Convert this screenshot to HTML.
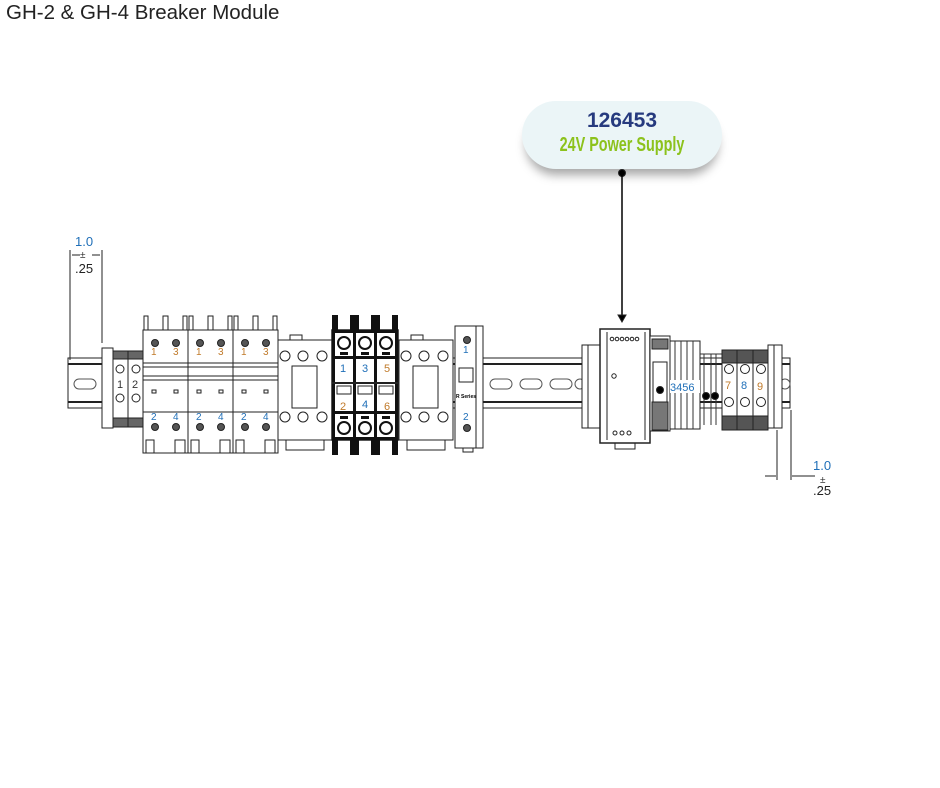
<!DOCTYPE html>
<html><head><meta charset="utf-8"><style>
html,body{margin:0;padding:0;background:#fff;}
body{width:940px;height:788px;position:relative;overflow:hidden;font-family:"Liberation Sans",sans-serif;}
.title{position:absolute;left:6px;top:1px;font-size:20.5px;color:#222;}
.call{position:absolute;left:522px;top:101px;width:200px;height:68px;border-radius:34px;background:#ebf5f7;box-shadow:0 10px 10px -4px rgba(0,0,0,0.35);text-align:center;}
.c1{font-weight:bold;font-size:21px;color:#263a7e;margin-top:8px;line-height:24px;}
.c2{font-weight:bold;font-size:20px;color:#8cc21c;line-height:24px;font-family:"Liberation Sans Narrow","Liberation Sans",sans-serif;transform:scaleX(0.72);white-space:nowrap;}
</style></head><body>
<div class="title">GH-2 &amp; GH-4 Breaker Module</div>
<div class="call"><div class="c1">126453</div><div class="c2">24V Power Supply</div></div>
<svg width="940" height="788" style="position:absolute;left:0;top:0" fill="none" stroke="#222" stroke-width="1">
<circle cx="622" cy="173" r="3.5" fill="#000"/>
<line x1="622" y1="173" x2="622" y2="316" stroke="#000" stroke-width="1.5"/>
<path d="M618 315 L626 315 L622 322 Z" fill="#000"/>
<rect x="68" y="358" width="722" height="50" fill="#fff"/>
<line x1="68" y1="364" x2="790" y2="364" stroke-width="2"/>
<line x1="68" y1="402" x2="790" y2="402" stroke-width="2"/>
<g stroke="#555">
<rect x="74" y="379" width="22" height="10" rx="5"/>
<rect x="490" y="379" width="22" height="10" rx="5"/>
<rect x="520" y="379" width="22" height="10" rx="5"/>
<rect x="550" y="379" width="22" height="10" rx="5"/>
<rect x="575" y="379" width="10" height="10" rx="5"/>
<rect x="780" y="379" width="10" height="10" rx="5"/>
</g>
<line x1="70" y1="250" x2="70" y2="360"/>
<line x1="102" y1="250" x2="102" y2="343"/>
<line x1="72" y1="255" x2="80" y2="255"/><line x1="92" y1="255" x2="100" y2="255"/>
<text x="75" y="246" font-size="13" fill="#1f6fb8" stroke="none">1.0</text>
<text x="80" y="258" font-size="10" fill="#333" stroke="none">±</text>
<text x="75" y="273" font-size="13" fill="#222" stroke="none">.25</text>
<line x1="777" y1="430" x2="777" y2="480"/>
<line x1="791" y1="410" x2="791" y2="480"/>
<line x1="765" y1="476" x2="776" y2="476"/><line x1="792" y1="476" x2="815" y2="476"/>
<text x="813" y="470" font-size="13" fill="#1f6fb8" stroke="none">1.0</text>
<text x="820" y="483" font-size="10" fill="#333" stroke="none">±</text>
<text x="813" y="495" font-size="13" fill="#222" stroke="none">.25</text>
<rect x="102" y="348" width="11" height="80" fill="#fff"/>
<rect x="113" y="351" width="30" height="76" fill="#fff"/>
<rect x="113" y="351" width="30" height="8" fill="#666"/>
<rect x="113" y="418" width="30" height="9" fill="#666"/>
<line x1="128" y1="351" x2="128" y2="427"/>
<circle cx="120" cy="369" r="4"/><circle cx="136" cy="369" r="4"/>
<circle cx="120" cy="398" r="4"/><circle cx="136" cy="398" r="4"/>
<text x="117" y="388" font-size="11" fill="#333" stroke="none">1</text>
<text x="132" y="388" font-size="11" fill="#333" stroke="none">2</text>
<g id="brk">
<rect x="143" y="330" width="45" height="123" fill="#fff"/>
<path d="M144 330 V316 H148 V330 M163 330 V316 H168 V330 M183 330 V316 H187 V330"/>
<line x1="143" y1="363" x2="188" y2="363"/><line x1="143" y1="367" x2="188" y2="367"/>
<line x1="143" y1="376" x2="188" y2="376"/><line x1="143" y1="380" x2="188" y2="380"/>
<line x1="143" y1="412" x2="188" y2="412"/>
<circle cx="155" cy="343" r="3.5" fill="#555"/><circle cx="176" cy="343" r="3.5" fill="#555"/>
<circle cx="155" cy="427" r="3.5" fill="#555"/><circle cx="176" cy="427" r="3.5" fill="#555"/>
<rect x="152" y="390" width="4" height="3"/><rect x="174" y="390" width="4" height="3"/>
<text x="151" y="355" font-size="10" fill="#c07a2a" stroke="none">1</text>
<text x="173" y="355" font-size="10" fill="#c07a2a" stroke="none">3</text>
<text x="151" y="420" font-size="10" fill="#1f6fb8" stroke="none">2</text>
<text x="173" y="420" font-size="10" fill="#1f6fb8" stroke="none">4</text>
<path d="M146 453 V440 H154 V453 M175 453 V440 H185 V453"/>
</g>
<use href="#brk" x="45"/><use href="#brk" x="90"/>
<g id="gc">
<rect x="278" y="340" width="54" height="100" fill="#fff"/>
<circle cx="285" cy="356" r="5"/><circle cx="303" cy="356" r="5"/><circle cx="322" cy="356" r="5"/>
<circle cx="285" cy="417" r="5"/><circle cx="303" cy="417" r="5"/><circle cx="322" cy="417" r="5"/>
<rect x="292" y="366" width="25" height="42"/>
<rect x="290" y="335" width="12" height="5"/>
<rect x="286" y="440" width="38" height="10"/>
</g>
<use href="#gc" x="121"/>
<!-- black contactor -->
<rect x="332" y="330" width="66" height="110" fill="#fff" stroke-width="1.5"/>
<g fill="#111" stroke="none">
<rect x="332" y="315" width="3" height="140"/><rect x="353" y="315" width="3" height="140"/>
<rect x="374" y="315" width="3" height="140"/><rect x="395" y="315" width="3" height="140"/>
<rect x="332" y="315" width="6" height="15"/><rect x="350" y="315" width="9" height="15"/><rect x="371" y="315" width="9" height="15"/><rect x="392" y="315" width="6" height="15"/>
<rect x="332" y="440" width="6" height="15"/><rect x="350" y="440" width="9" height="15"/><rect x="371" y="440" width="9" height="15"/><rect x="392" y="440" width="6" height="15"/>
<rect x="332" y="330" width="66" height="3"/><rect x="332" y="356" width="66" height="3"/>
<rect x="332" y="411" width="66" height="3"/><rect x="332" y="437" width="66" height="3"/>
<rect x="340" y="352" width="8" height="3"/><rect x="361" y="352" width="8" height="3"/><rect x="382" y="352" width="8" height="3"/>
<rect x="340" y="416" width="8" height="3"/><rect x="361" y="416" width="8" height="3"/><rect x="382" y="416" width="8" height="3"/>
</g>
<g stroke="#111" stroke-width="2" fill="#fff">
<circle cx="344" cy="343" r="6"/><circle cx="365" cy="343" r="6"/><circle cx="386" cy="343" r="6"/>
<circle cx="344" cy="428" r="6"/><circle cx="365" cy="428" r="6"/><circle cx="386" cy="428" r="6"/>
</g>
<line x1="332" y1="383" x2="398" y2="383" stroke-width="2"/>
<rect x="337" y="386" width="14" height="8"/><rect x="358" y="386" width="14" height="8"/><rect x="379" y="386" width="14" height="8"/>
<text x="340" y="372" font-size="11" fill="#1f6fb8" stroke="none">1</text>
<text x="362" y="372" font-size="11" fill="#1f6fb8" stroke="none">3</text>
<text x="384" y="372" font-size="11" fill="#c07a2a" stroke="none">5</text>
<text x="340" y="410" font-size="11" fill="#c07a2a" stroke="none">2</text>
<text x="362" y="408" font-size="11" fill="#1f6fb8" stroke="none">4</text>
<text x="384" y="410" font-size="11" fill="#c07a2a" stroke="none">6</text>
<rect x="455" y="326" width="28" height="122" fill="#fff"/>
<line x1="476" y1="326" x2="476" y2="448"/>
<circle cx="467" cy="340" r="3.5" fill="#555"/><circle cx="467" cy="428" r="3.5" fill="#555"/>
<text x="463" y="353" font-size="10" fill="#1f6fb8" stroke="none">1</text>
<text x="463" y="420" font-size="10" fill="#1f6fb8" stroke="none">2</text>
<rect x="459" y="368" width="14" height="14"/>
<text x="456" y="398" font-size="5" fill="#000" stroke="none" font-weight="bold">R Series</text>
<rect x="463" y="448" width="10" height="4"/>
<rect x="582" y="345" width="18" height="83" fill="#fff"/>
<line x1="588" y1="345" x2="588" y2="428"/>
<rect x="600" y="329" width="50" height="114" fill="#fff" stroke-width="1.5"/>
<line x1="607" y1="332" x2="607" y2="440"/><line x1="645" y1="332" x2="645" y2="440"/>
<g><circle cx="612" cy="339" r="1.8"/><circle cx="617" cy="339" r="1.8"/><circle cx="622" cy="339" r="1.8"/><circle cx="627" cy="339" r="1.8"/><circle cx="632" cy="339" r="1.8"/><circle cx="637" cy="339" r="1.8"/></g>
<circle cx="614" cy="376" r="2.2"/>
<circle cx="615" cy="433" r="2"/><circle cx="622" cy="433" r="2"/><circle cx="629" cy="433" r="2"/>
<rect x="615" y="443" width="20" height="6"/>
<rect x="650" y="336" width="20" height="95" fill="#fff"/>
<rect x="652" y="339" width="16" height="10" fill="#777"/>
<rect x="653" y="362" width="14" height="42"/>
<circle cx="660" cy="390" r="3.5" fill="#000"/>
<rect x="652" y="402" width="16" height="28" fill="#777"/>
<rect x="670" y="341" width="30" height="88" fill="#fff"/>
<g stroke="#333"><line x1="675" y1="341" x2="675" y2="429"/><line x1="681" y1="341" x2="681" y2="429"/><line x1="687" y1="341" x2="687" y2="429"/><line x1="693" y1="341" x2="693" y2="429"/>
<line x1="700" y1="354" x2="722" y2="354"/><line x1="704" y1="354" x2="704" y2="425"/><line x1="711" y1="354" x2="711" y2="425"/><line x1="716" y1="354" x2="716" y2="425"/></g>
<rect x="670" y="380" width="30" height="13" fill="#fff" stroke="none"/>
<text x="670" y="391" font-size="11" fill="#1f6fb8" stroke="none">3456</text>
<circle cx="706" cy="396" r="3.5" fill="#000"/><circle cx="715" cy="396" r="3.5" fill="#000"/>
<rect x="722" y="350" width="46" height="80" fill="#fff"/>
<rect x="722" y="350" width="46" height="13" fill="#555"/>
<rect x="722" y="416" width="46" height="14" fill="#555"/>
<line x1="737" y1="350" x2="737" y2="430"/><line x1="753" y1="350" x2="753" y2="430"/>
<circle cx="729" cy="369" r="4.5" fill="#fff"/><circle cx="745" cy="369" r="4.5" fill="#fff"/><circle cx="761" cy="369" r="4.5" fill="#fff"/>
<circle cx="729" cy="402" r="4.5" fill="#fff"/><circle cx="745" cy="402" r="4.5" fill="#fff"/><circle cx="761" cy="402" r="4.5" fill="#fff"/>
<text x="725" y="389" font-size="11" fill="#c07a2a" stroke="none">7</text>
<text x="741" y="389" font-size="11" fill="#1f6fb8" stroke="none">8</text>
<text x="757" y="390" font-size="11" fill="#c07a2a" stroke="none">9</text>
<rect x="768" y="345" width="14" height="83" fill="#fff"/>
<line x1="774" y1="345" x2="774" y2="428"/>
</svg>
</body></html>
